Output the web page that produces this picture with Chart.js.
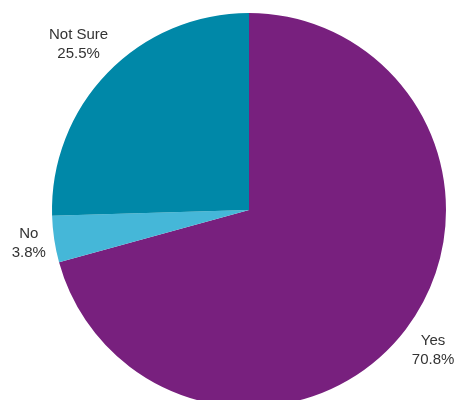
<!DOCTYPE html>
<html>
<head>
<meta charset="utf-8">
<script src="https://cdn.jsdelivr.net/npm/chart.js@4"></script>
<style>
  body { margin: 0; overflow: hidden; background: #fff; }
  .chart { position: relative; width: 457px; height: 420px; }
</style>
</head>
<body>
<div class="chart"><canvas id="myChart"></canvas></div>
<script>
const categories = ['Yes', 'No', 'Not Sure'];
const values = [70.8, 3.8, 25.5];
const colors = ['#78207e', '#45b7d8', '#0088a8'];

// draws "name / pct" outside each slice
const outsideLabels = {
  id: 'outsideLabels',
  afterDatasetsDraw(chart) {
    const ctx = chart.ctx;
    const meta = chart.getDatasetMeta(0);
    ctx.save();
    ctx.font = '15px "Liberation Sans", Arial, sans-serif';
    ctx.fillStyle = '#333';
    ctx.textAlign = 'center';
    ctx.textBaseline = 'middle';
    const lineH = 19;
    meta.data.forEach((arc, i) => {
      const lines = [categories[i], values[i].toFixed(1) + '%'];
      const w = Math.max(...lines.map(l => ctx.measureText(l).width));
      const h = lineH * lines.length;
      const mid = (arc.startAngle + arc.endAngle) / 2;
      const dx = Math.cos(mid);
      const dy = Math.sin(mid);
      const ext = Math.abs(dx) * w / 2 + Math.abs(dy) * h / 2;
      const r = arc.outerRadius + 6 + ext;
      const cx = arc.x + dx * r;
      const cy = arc.y + dy * r;
      lines.forEach((l, j) => {
        ctx.fillText(l, cx, cy - h / 2 + lineH * (j + 0.5));
      });
    });
    ctx.restore();
  },
};

const myChart = new Chart(document.getElementById('myChart').getContext('2d'), {
  type: 'pie',
  data: {
    labels: categories,
    datasets: [
      {
        data: values,
        backgroundColor: colors,
        borderWidth: 0,
      },
    ],
  },
  options: {
    responsive: true,
    maintainAspectRatio: false,
    animation: false,
    layout: {
      padding: { left: 52, right: 11, top: 13, bottom: 13 },
    },
    plugins: {
      legend: { display: false },
      tooltip: { enabled: false },
    },
  },
  plugins: [outsideLabels],
});
</script>
</body>
</html>
